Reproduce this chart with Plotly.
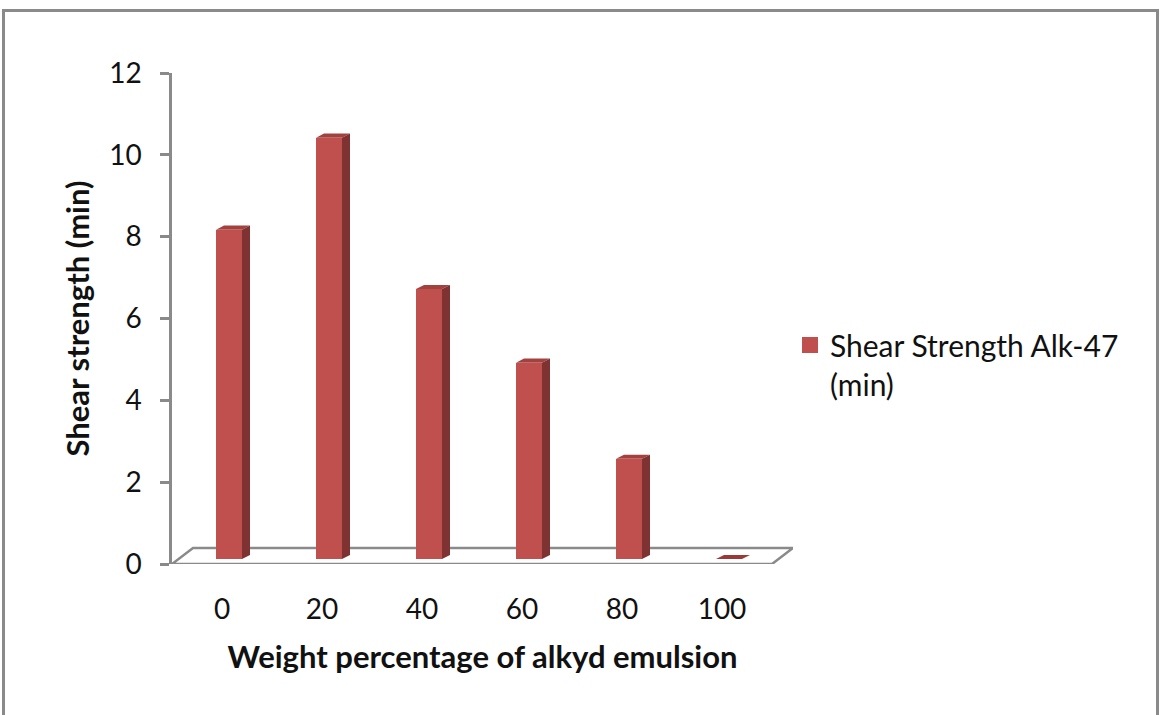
import plotly.graph_objects as go

# ---- data ----
categories = ["0", "20", "40", "60", "80", "100"]
shear_strength = [8.05, 10.3, 6.6, 4.8, 2.45, 0.0]
series_name = "Shear Strength Alk-47<br>(min)"
y_ticks = [0, 2, 4, 6, 8, 10, 12]

# ---- layout constants (pseudo-3D look) ----
W, H = 1161, 715
ML, MR, MT, MB = 172, 368, 73, 151
PW, PH = W - ML - MR, H - MT - MB
X_RANGE = [-0.5, 5.71]
Y_RANGE = [0, 12]
FRONT = "#C0504D"
TOP = "#A3413F"
SIDE = "#7E3231"
GREY = "#8A8A8A"
FONT = "Lato"
TXT = "#111111"

BAR_SHIFT = 0.07   # front face shift (x units)
BAR_W = 0.26       # front face width
BASE = 0.12        # bar bottom above floor front edge
DX, DY = 0.08, 0.10  # bar depth
FLOOR_DX, FLOOR_DY = 0.21, 0.39

xs = list(range(len(categories)))

fig = go.Figure()

# floor parallelogram
fig.add_shape(type="path",
              path=(f"M {X_RANGE[0]},0 L {len(categories)-0.5},0 "
                    f"L {len(categories)-0.5+FLOOR_DX},{FLOOR_DY} "
                    f"L {X_RANGE[0]+FLOOR_DX},{FLOOR_DY} Z"),
              xref="x", yref="y", line=dict(color=GREY, width=2.5),
              fillcolor="white", layer="below")

# front faces
fig.add_trace(go.Bar(x=[x + BAR_SHIFT for x in xs], y=shear_strength, base=BASE,
                     width=BAR_W, marker=dict(color=FRONT, line=dict(width=0)),
                     showlegend=False, hoverinfo="y"))

# top and side faces derived from values
for x, v in zip(xs, shear_strength):
    x0 = x + BAR_SHIFT - BAR_W / 2
    x1 = x + BAR_SHIFT + BAR_W / 2
    top = BASE + v
    fig.add_trace(go.Scatter(x=[x0, x1, x1 + DX, x0 + DX, x0],
                             y=[top, top, top + DY, top + DY, top],
                             fill="toself", fillcolor=TOP if v > 0 else "#9A3A38",
                             line=dict(width=0), mode="lines",
                             showlegend=False, hoverinfo="skip"))
    if v > 0:
        fig.add_trace(go.Scatter(x=[x1, x1 + DX, x1 + DX, x1, x1],
                                 y=[BASE, BASE + DY, top + DY, top, BASE],
                                 fill="toself", fillcolor=SIDE,
                                 line=dict(width=0), mode="lines",
                                 showlegend=False, hoverinfo="skip"))

# legend proxy
fig.add_trace(go.Scatter(x=[None], y=[None], mode="markers", name=series_name,
                         marker=dict(symbol="square", size=18, color=FRONT)))

# outer frame
def px2paper_x(p):
    return (p - ML) / PW

def px2paper_y(p):
    return (H - MB - p) / PH

fig.add_shape(type="rect", xref="paper", yref="paper",
              x0=px2paper_x(3.5), x1=px2paper_x(1157.5),
              y0=px2paper_y(730), y1=px2paper_y(10.5),
              line=dict(color=GREY, width=3), layer="below")

fig.update_layout(
    width=W, height=H,
    margin=dict(l=ML, r=MR, t=MT, b=MB),
    paper_bgcolor="white", plot_bgcolor="white",
    font=dict(family=FONT, size=28, color=TXT),
    bargap=0,
    legend=dict(x=px2paper_x(790), y=px2paper_y(319), xanchor="left", yanchor="top",
                valign="top", font=dict(size=30, family=FONT, color=TXT),
                bgcolor="rgba(0,0,0,0)", itemsizing="trace"),
    showlegend=True,
)

fig.update_xaxes(range=X_RANGE, tickmode="array", tickvals=xs, ticktext=categories,
                 showgrid=False, zeroline=False, showline=False, ticks="",
                 ticklabelstandoff=26, fixedrange=True,
                 tickfont=dict(size=28, family=FONT, color=TXT),
                 title=dict(text="<b>Weight percentage of alkyd emulsion</b>",
                            font=dict(size=31, family=FONT, color=TXT), standoff=22))
fig.update_yaxes(range=Y_RANGE, tickmode="array", tickvals=y_ticks,
                 showgrid=False, zeroline=False, showline=True, linecolor=GREY,
                 linewidth=2.5, ticks="outside", ticklen=9, tickwidth=2.5,
                 tickcolor=GREY, ticklabelstandoff=13, fixedrange=True,
                 tickfont=dict(size=28, family=FONT, color=TXT),
                 title=dict(text="<b>Shear strength (min)</b>",
                            font=dict(size=31, family=FONT, color=TXT), standoff=11))

fig.write_html("out.html")
